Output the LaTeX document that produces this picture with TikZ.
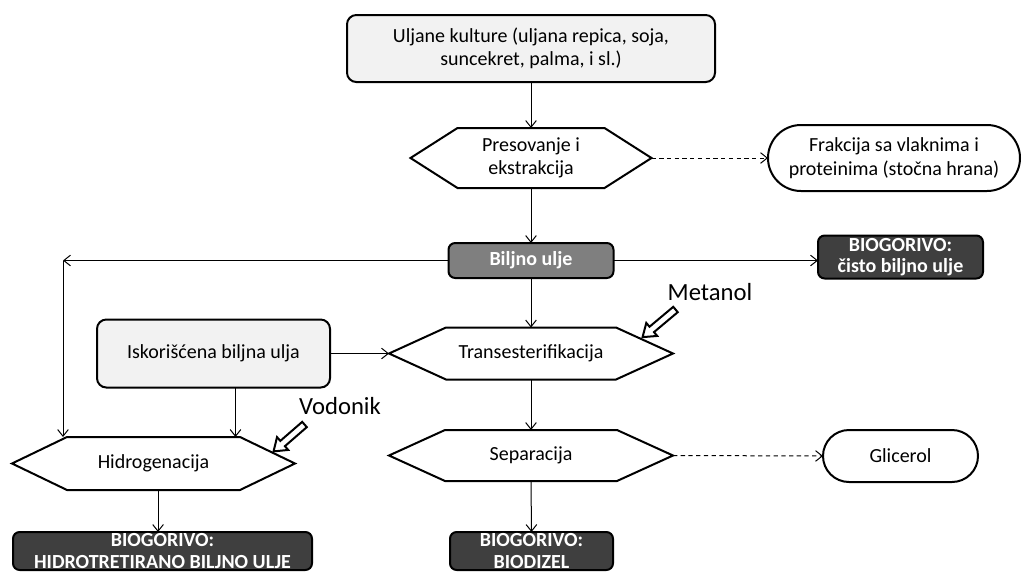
\documentclass[tikz,border=0pt]{standalone}
\usepackage{fontspec}
\setmainfont{Carlito}
\usetikzlibrary{arrows.meta,shapes.misc}
\definecolor{lightbox}{HTML}{F2F2F2}
\definecolor{midbox}{HTML}{7F7F7F}
\definecolor{darkbox}{HTML}{3F3F3F}
\tikzset{
  base/.style={inner sep=0pt, outer sep=0pt, align=center,
    font=\fontsize{15pt}{17.5pt}\selectfont},
  lightrect/.style={base, draw, line width=1.5pt, fill=lightbox, rounded corners=7pt},
  midrect/.style={base, draw, line width=1.5pt, fill=midbox, rounded corners=5pt,
    text=white, font=\fontsize{15pt}{17pt}\selectfont\bfseries},
  darkrect/.style={base, draw, line width=1.5pt, fill=darkbox, rounded corners=5pt,
    text=white, font=\fontsize{15pt}{16pt}\selectfont\bfseries},
  stadium/.style={base, draw, line width=1.5pt, rounded rectangle},
  hexlabel/.style={base},
  hexline/.style={draw, line width=1.5pt, line join=miter},
  conn/.style={line width=0.75pt, -{Straight Barb[length=5pt,width=8pt]}},
  dashconn/.style={conn, dash pattern=on 3.2pt off 2.6pt},
  blockarrow/.style={draw, line width=1.5pt, fill=white, line join=miter},
  biglabel/.style={inner sep=0pt, font=\fontsize{18.5pt}{20pt}\selectfont}
}
\newcommand{\hexdraw}[2]{\draw[hexline] (#1.west) -- ([xshift=#2]#1.north west) -- ([xshift=-#2]#1.north east) -- (#1.east) -- ([xshift=-#2]#1.south east) -- ([xshift=#2]#1.south west) -- cycle;}
\newcommand{\blockarr}[3]{% tail point, angle, length
  \begin{scope}[shift={#1}, rotate=#2]
    \draw[blockarrow] (0,-3.5) -- (#3-12,-3.5) -- (#3-12,-8.5) -- (#3,0) -- (#3-12,8.5) -- (#3-12,3.5) -- (0,3.5) -- cycle;
  \end{scope}}
\begin{document}
\begin{tikzpicture}[x=0.75pt,y=-0.75pt]
\useasboundingbox (0,0) rectangle (1022,572);
\clip (0,0) rectangle (1022,572);

% nodes
\node[lightrect, minimum width=276pt, minimum height=50.25pt] (top) at (531,48.5)
  {Uljane kulture (uljana repica, soja,\\suncekret, palma, i sl.)};
\node[hexlabel, minimum width=180.75pt, minimum height=45pt] (pres) at (531,158)
  {Presovanje i\\ekstrakcija};
\hexdraw{pres}{35.25pt}
\node[stadium, minimum width=189pt, minimum height=49.5pt] (frak) at (894,158)
  {Frakcija sa vlaknima i\\proteinima (stočna hrana)};
\node[midrect, minimum width=123.75pt, minimum height=26.25pt] (biljno) at (531,260.5)
  {Biljno ulje};
\node[darkrect, minimum width=123.75pt, minimum height=32.25pt] (cisto) at (900.5,257)
  {BIOGORIVO:\\čisto biljno ulje};
\node[hexlabel, minimum width=213pt, minimum height=39pt] (trans) at (531,353.5)
  {Transesterifikacija};
\hexdraw{trans}{42.75pt}
\node[lightrect, minimum width=174.75pt, minimum height=51pt] (isk) at (213.5,353.5)
  {Iskorišćena biljna ulja};
\node[hexlabel, minimum width=212.25pt, minimum height=39.75pt] (hidro) at (153.5,463.5)
  {Hidrogenacija};
\hexdraw{hidro}{41.25pt}
\node[hexlabel, minimum width=213pt, minimum height=38.25pt] (sep) at (531,455.5)
  {Separacija};
\hexdraw{sep}{42pt}
\node[stadium, minimum width=116.25pt, minimum height=39pt] (glic) at (900.5,456)
  {Glicerol};
\node[darkrect, minimum width=224.25pt, minimum height=28.5pt] (hvo) at (162.5,551)
  {BIOGORIVO:\\HIDROTRETIRANO BILJNO ULJE};
\node[darkrect, minimum width=122.25pt, minimum height=28.5pt] (bio) at (531.5,551)
  {BIOGORIVO:\\BIODIZEL};

% inputs with block arrows
\node[biglabel] (metanol) at (710,292) {Metanol};
\node[biglabel] (vodonik) at (340,406) {Vodonik};
\blockarr{(675.5,309.5)}{220}{43}
\blockarr{(304.5,424.5)}{221}{41}

% connectors
\draw[conn] (top.south) -- (pres.north);
\draw[dashconn] (pres.east) -- (frak.west);
\draw[conn] (pres.south) -- (biljno.north);
\draw[conn] (biljno.east) -- (biljno.east -| cisto.west);
\coordinate (corner) at (63,260.5);
\draw[conn] (biljno.west) -- (corner);
\draw[conn] (corner) -- (corner |- hidro.north);
\draw[conn] (biljno.south) -- (trans.north);
\draw[conn] (isk.east) -- (trans.west);
\coordinate (iskd) at ([xshift=16.5pt]isk.south);
\draw[conn] (iskd) -- (iskd |- hidro.north);
\draw[conn] (trans.south) -- (sep.north);
\draw[dashconn] (sep.east) -- (glic.west);
\draw[conn] (sep.south) -- (bio.north);
\coordinate (hd) at ([xshift=3.4pt]hidro.south);
\draw[conn] (hd) -- (hd |- hvo.north);
\end{tikzpicture}
\end{document}
